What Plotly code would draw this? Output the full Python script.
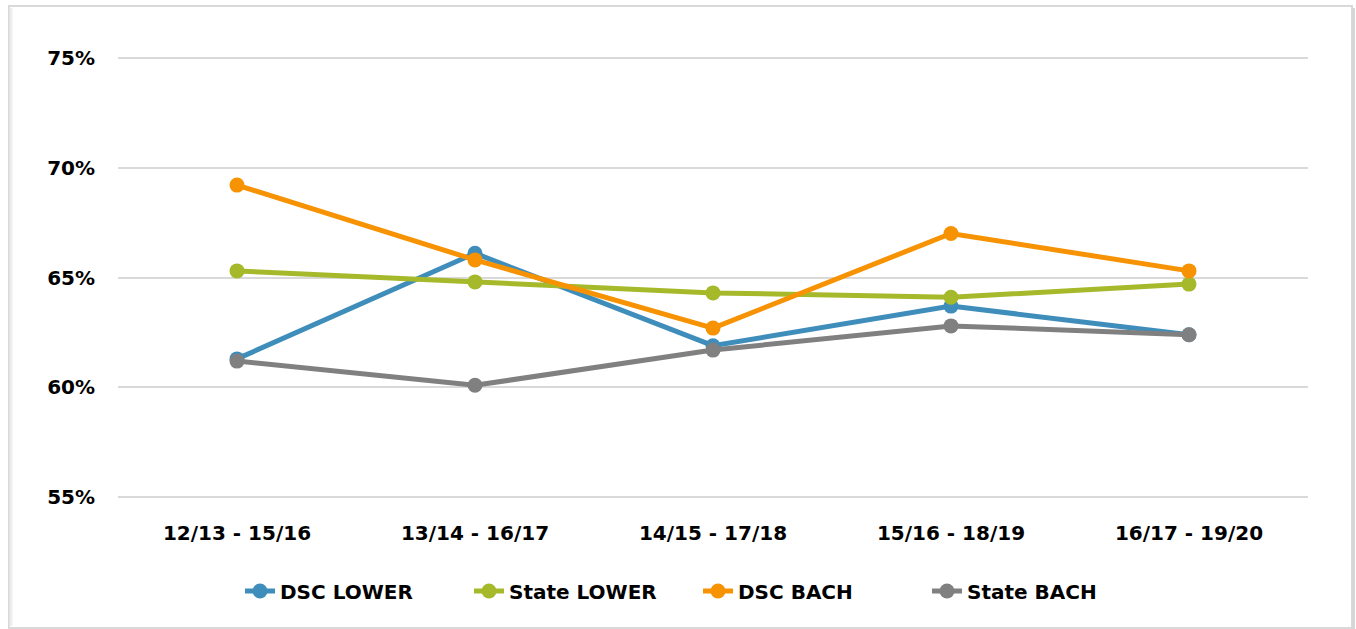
import plotly.graph_objects as go

categories = ["12/13 - 15/16", "13/14 - 16/17", "14/15 - 17/18", "15/16 - 18/19", "16/17 - 19/20"]
dsc_lower = [61.3, 66.1, 61.9, 63.7, 62.4]
state_lower = [65.3, 64.8, 64.3, 64.1, 64.7]
dsc_bach = [69.2, 65.8, 62.7, 67.0, 65.3]
state_bach = [61.2, 60.1, 61.7, 62.8, 62.4]
y_ticks = [55, 60, 65, 70, 75]
y_tick_labels = ["55%", "60%", "65%", "70%", "75%"]

series = [
    ("DSC LOWER", dsc_lower, "#3F8DBA"),
    ("State LOWER", state_lower, "#A5B92B"),
    ("DSC BACH", dsc_bach, "#F79203"),
    ("State BACH", state_bach, "#808080"),
]

W, H = 1356, 629
ml, mr, mt, mb = 118, 48, 56, 130
FONT = "DejaVu Sans"

fig = go.Figure()
for name, vals, col in series:
    fig.add_trace(go.Scatter(
        x=categories, y=vals, name=name, mode="lines+markers",
        line=dict(color=col, width=5),
        marker=dict(color=col, size=15),
    ))

pw = W - ml - mr
ph = H - mt - mb
def px_x(p):
    return (p - ml) / pw
def px_y(p):
    return (H - mb - p) / ph

fig.update_layout(
    width=W, height=H,
    margin=dict(l=ml, r=mr, t=mt, b=mb),
    paper_bgcolor="white", plot_bgcolor="white",
    font=dict(family=FONT, size=20, color="#000000"),
    showlegend=True,
    legend=dict(orientation="h", x=px_x(240), xanchor="left", y=px_y(591), yanchor="middle",
                font=dict(family=FONT, size=20, color="#000000", weight="bold"),
                entrywidth=184, entrywidthmode="pixels", tracegroupgap=0),
    xaxis=dict(type="category", range=[-0.5, 4.5], showgrid=False, zeroline=False,
               showline=False, ticks="", ticklabelstandoff=20,
               tickfont=dict(family=FONT, size=20, color="#000000", weight="bold")),
    yaxis=dict(range=[54.93, 75.07], tickvals=y_ticks, ticktext=y_tick_labels, showgrid=True,
               gridcolor="#D9D9D9", gridwidth=1.5, zeroline=False, showline=False,
               ticks="", ticklabelstandoff=22,
               tickfont=dict(family=FONT, size=20, color="#000000", weight="bold")),
    shapes=[
        dict(type="rect", xref="paper", yref="paper",
             x0=px_x(9), x1=px_x(1352), y0=px_y(628), y1=px_y(6),
             line=dict(color="#D9D9D9", width=2), fillcolor="rgba(0,0,0,0)", layer="below"),
        dict(type="line", xref="paper", yref="paper",
             x0=px_x(11), x1=px_x(11), y0=px_y(626), y1=px_y(8),
             line=dict(color="#EDEDED", width=3), layer="below"),
        dict(type="line", xref="paper", yref="paper",
             x0=px_x(1353.5), x1=px_x(1353.5), y0=px_y(629), y1=px_y(8),
             line=dict(color="#D6D6D6", width=3), layer="below"),
    ],
)

fig.write_html("out.html", config={"displayModeBar": False},
               post_script="document.body.style.margin='0';document.body.style.overflow='hidden';")
